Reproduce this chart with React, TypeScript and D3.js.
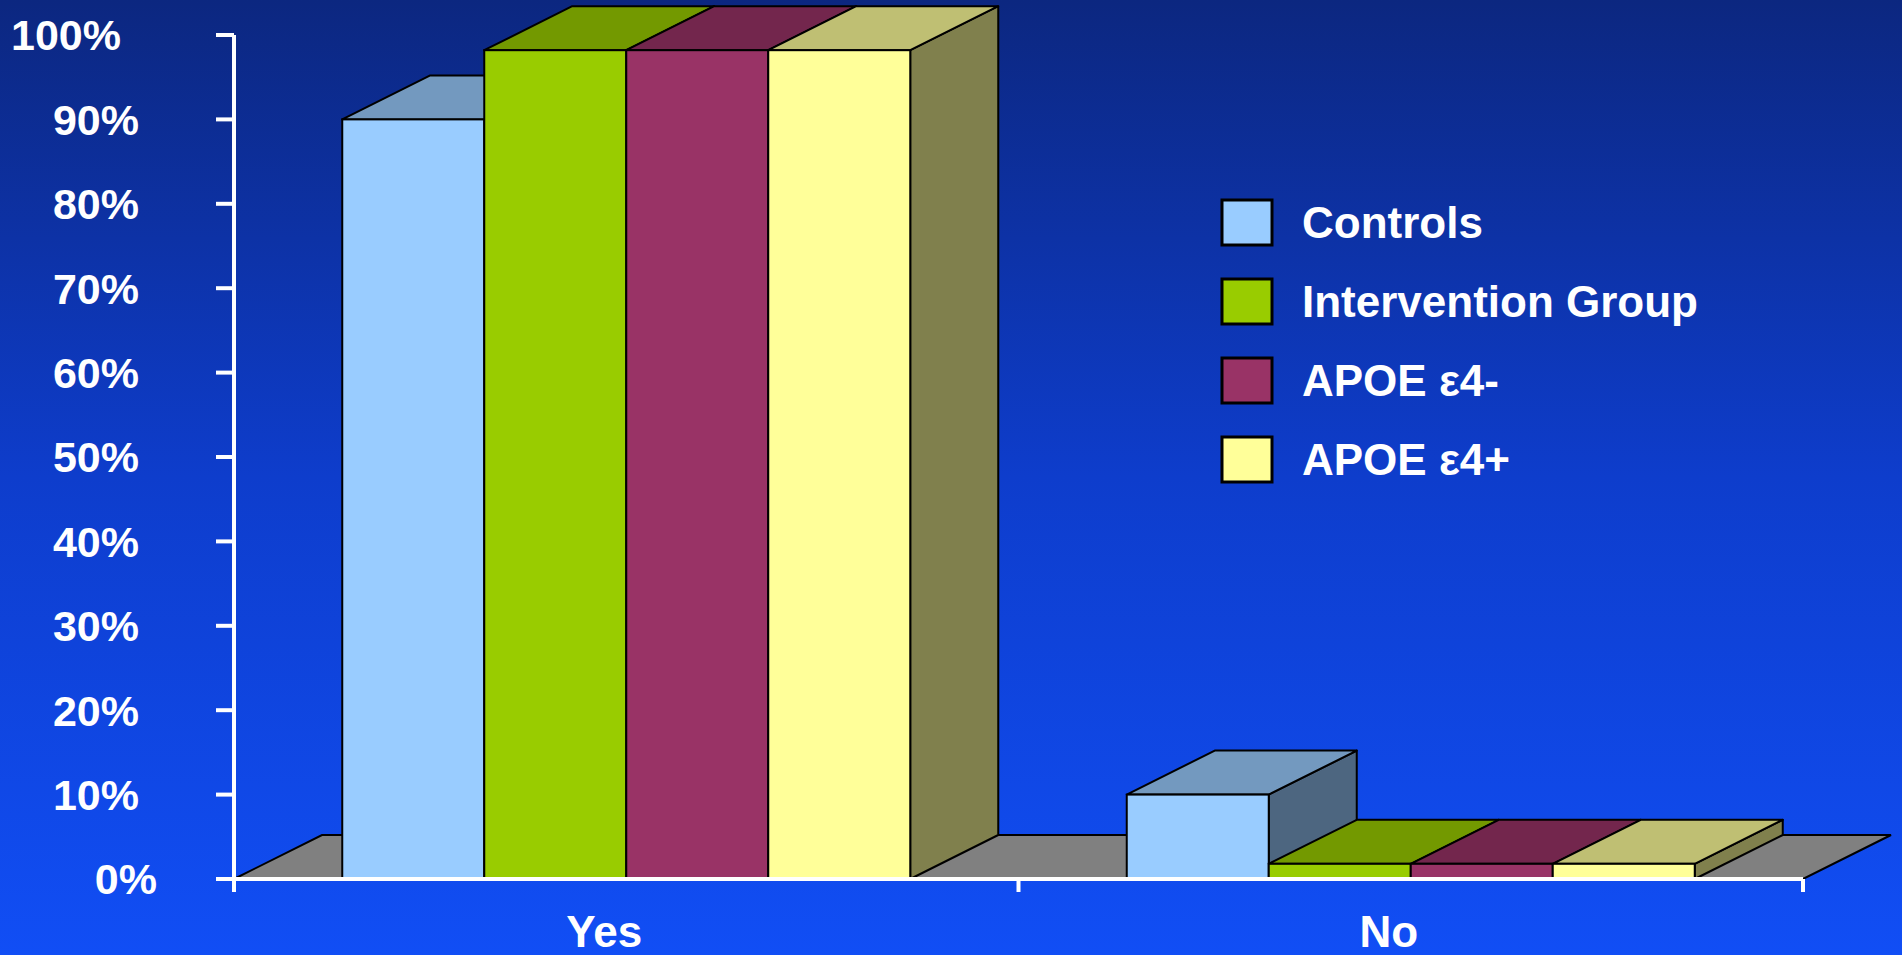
import React from "react";
import * as d3 from "d3";

const categories = ["Yes", "No"];
const seriesNames = ["Controls", "Intervention Group", "APOE ε4-", "APOE ε4+"];
const controls = [90, 10];
const intervention = [98.2, 1.8];
const apoeNeg = [98.2, 1.8];
const apoePos = [98.2, 1.8];
const yTicks = [0, 10, 20, 30, 40, 50, 60, 70, 80, 90, 100];

const seriesValues = [controls, intervention, apoeNeg, apoePos];
const frontColors = ["#99CCFF", "#99CC00", "#993366", "#FFFF99"];
const topColors = ["#7399BF", "#739900", "#73264D", "#BFBF73"];
const sideColors = ["#4D6680", "#4D6600", "#4D1A33", "#80804D"];

const W = 1902;
const H = 955;
const DX = 88;
const DY = -44;
const FONT = "'Liberation Sans', Arial, sans-serif";

export default function App() {
  const x0 = d3.scaleBand<string>().domain(categories).range([234, 1803]);
  const y = d3.scaleLinear().domain([0, 100]).range([879, 35]);
  const groupW = 568;
  const x1 = d3.scaleBand<string>().domain(seriesNames).range([0, groupW]);
  const bw = x1.bandwidth();
  const y0 = y(0);
  const [xa, xb] = x0.range();

  const pts = (p: [number, number][]) => p.map((q) => q.join(",")).join(" ");

  const bars: React.ReactNode[] = [];
  categories.forEach((c, ci) => {
    const gx = (x0(c) as number) + (x0.bandwidth() - groupW) / 2;
    seriesNames.forEach((s, si) => {
      const v = seriesValues[si][ci];
      const x = gx + (x1(s) as number);
      const yv = y(v);
      bars.push(
        <g key={c + s}>
          <polygon
            points={pts([[x + bw, yv], [x + bw + DX, yv + DY], [x + bw + DX, y0 + DY], [x + bw, y0]])}
            fill={sideColors[si]}
            stroke="#000"
            strokeWidth={2}
            strokeLinejoin="round"
          />
          <polygon
            points={pts([[x, yv], [x + DX, yv + DY], [x + bw + DX, yv + DY], [x + bw, yv]])}
            fill={topColors[si]}
            stroke="#000"
            strokeWidth={2}
            strokeLinejoin="round"
          />
          <rect x={x} y={yv} width={bw} height={y0 - yv} fill={frontColors[si]} stroke="#000" strokeWidth={2} />
        </g>
      );
    });
  });

  const labelX = (t: number) => (t === 100 ? 121 : t === 0 ? 157 : 139);

  return (
    <svg width={W} height={H} style={{ position: "absolute", left: 0, top: 0, display: "block" }}>
      <defs>
        <linearGradient id="bg" x1="0" y1="0" x2="0" y2="1">
          <stop offset="0" stopColor="#0C2780" />
          <stop offset="0.5" stopColor="#0E3DCC" />
          <stop offset="1" stopColor="#114EF5" />
        </linearGradient>
      </defs>
      <rect x={0} y={0} width={W} height={H} fill="url(#bg)" />

      {/* floor */}
      <polygon
        points={pts([[xa, y0], [xa + DX, y0 + DY], [xb + DX, y0 + DY], [xb, y0]])}
        fill="#808080"
        stroke="#000"
        strokeWidth={2}
      />

      {bars}

      {/* axes */}
      <line x1={xa} y1={y(100)} x2={xa} y2={892} stroke="#fff" strokeWidth={4} />
      <line x1={216} y1={y0} x2={xb} y2={y0} stroke="#fff" strokeWidth={4} />
      {yTicks.map((t) => (
        <line key={"t" + t} x1={216} y1={y(t)} x2={xa} y2={y(t)} stroke="#fff" strokeWidth={4} />
      ))}
      {[x0("No") as number, xb].map((xx, i) => (
        <line key={"xt" + i} x1={xx} y1={y0} x2={xx} y2={892} stroke="#fff" strokeWidth={4} />
      ))}

      {yTicks.map((t) => (
        <text
          key={"l" + t}
          x={labelX(t)}
          y={y(t)}
          dy="0.36em"
          textAnchor="end"
          fill="#fff"
          fontFamily={FONT}
          fontWeight="bold"
          fontSize={43}
        >
          {t}%
        </text>
      ))}

      {categories.map((c) => (
        <text
          key={"c" + c}
          x={(x0(c) as number) + x0.bandwidth() / 2 - 22}
          y={947}
          textAnchor="middle"
          fill="#fff"
          fontFamily={FONT}
          fontWeight="bold"
          fontSize={44}
        >
          {c}
        </text>
      ))}

      {/* legend */}
      {seriesNames.map((s, i) => {
        const cy = 222 + i * 79;
        return (
          <g key={"lg" + s}>
            <rect x={1222} y={cy - 22} width={50} height={45} fill={frontColors[i]} stroke="#000" strokeWidth={3} />
            <text x={1302} y={cy + 16} fill="#fff" fontFamily={FONT} fontWeight="bold" fontSize={44}>
              {s}
            </text>
          </g>
        );
      })}
    </svg>
  );
}
